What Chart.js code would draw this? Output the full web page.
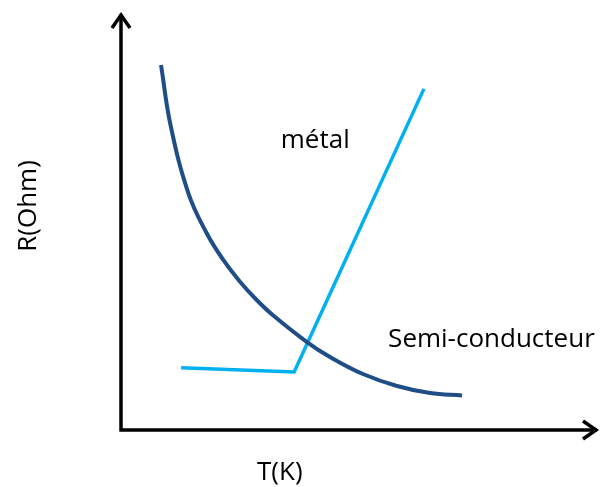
<!DOCTYPE html>
<html>
<head>
<meta charset="utf-8">
<script src="https://cdn.jsdelivr.net/npm/chart.js@4/dist/chart.umd.min.js"></script>
<style>
html,body{margin:0;padding:0;background:#fff;}
#wrap{width:607px;height:487px;}
</style>
</head>
<body>
<div id="wrap"><canvas id="c" width="607" height="487"></canvas></div>
<script>
// Semi-conducteur curve (T, R) in arbitrary units
const semiT = [8.39, 10.38, 14.11, 17.97, 21.45, 24.95, 28.45, 31.93, 38.99, 43.82, 50.73, 57.86, 64.78, 71.49];
const semiR = [87.53, 73.14, 56.83, 47.17, 40.77, 35.56, 31.18, 27.46, 21.10, 17.51, 13.43, 10.55, 8.87, 8.27];
// Métal line (T, R)
const metalT = [12.6, 36.3, 63.5];
const metalR = [14.9, 13.9, 81.8];
// Labels
const seriesNames = ['Semi-conducteur', 'métal'];
const labelPos = [[56, 19.9], [33.5, 67.6]];
const axisTitles = ['T(K)', 'R(Ohm)'];

const FONT = '26px "Open Sans", sans-serif';

const axesPlugin = {
  id: 'axesArrows',
  afterDraw(chart) {
    const ctx = chart.ctx;
    const a = chart.chartArea;
    const xs = chart.scales.x, ys = chart.scales.y;
    const x0 = xs.getPixelForValue(xs.min), y0 = ys.getPixelForValue(ys.min);
    const xEnd = xs.getPixelForValue(xs.max), yEnd = ys.getPixelForValue(ys.max);
    ctx.save();
    ctx.strokeStyle = '#000';
    ctx.lineWidth = 3.5;
    ctx.lineCap = 'butt';
    ctx.lineJoin = 'miter';
    ctx.beginPath();
    ctx.moveTo(x0, y0 + 1.5);
    ctx.lineTo(x0, yEnd + 1);
    ctx.moveTo(x0 - 1.5, y0);
    ctx.lineTo(xEnd - 1, y0);
    ctx.stroke();
    // arrowheads
    ctx.beginPath();
    ctx.moveTo(x0 - 9, yEnd + 15);
    ctx.lineTo(x0, yEnd + 2);
    ctx.lineTo(x0 + 9, yEnd + 15);
    ctx.moveTo(xEnd - 15, y0 - 9);
    ctx.lineTo(xEnd - 2, y0);
    ctx.lineTo(xEnd - 15, y0 + 9);
    ctx.stroke();

    // series labels
    ctx.fillStyle = '#000';
    ctx.font = FONT;
    ctx.textAlign = 'left';
    ctx.textBaseline = 'alphabetic';
    seriesNames.forEach((n, i) => {
      ctx.fillText(n, xs.getPixelForValue(labelPos[i][0]), ys.getPixelForValue(labelPos[i][1]));
    });

    // axis titles
    ctx.fillText(axisTitles[0], 257, a.bottom + 50);
    ctx.save();
    ctx.translate(36, 206);
    ctx.rotate(-Math.PI / 2);
    ctx.textAlign = 'center';
    ctx.fillText(axisTitles[1], 0, 0);
    ctx.restore();
    ctx.restore();
  }
};

new Chart(document.getElementById('c'), {
  type: 'line',
  data: {
    datasets: [
      {
        label: seriesNames[0],
        data: semiT.map((t, i) => ({x: t, y: semiR[i]})),
        borderColor: '#1F4E86',
        borderWidth: 4,
        pointRadius: 0,
        tension: 0.4,
        fill: false
      },
      {
        label: seriesNames[1],
        data: metalT.map((t, i) => ({x: t, y: metalR[i]})),
        borderColor: '#00B0F0',
        borderWidth: 3.5,
        pointRadius: 0,
        tension: 0,
        fill: false
      }
    ]
  },
  options: {
    responsive: false,
    animation: false,
    layout: {padding: {left: 121, right: 9, top: 13, bottom: 57}},
    plugins: {legend: {display: false}, tooltip: {enabled: false}},
    scales: {
      x: {type: 'linear', min: 0, max: 100, display: false},
      y: {type: 'linear', min: 0, max: 100, display: false}
    }
  },
  plugins: [axesPlugin]
});
</script>
</body>
</html>
